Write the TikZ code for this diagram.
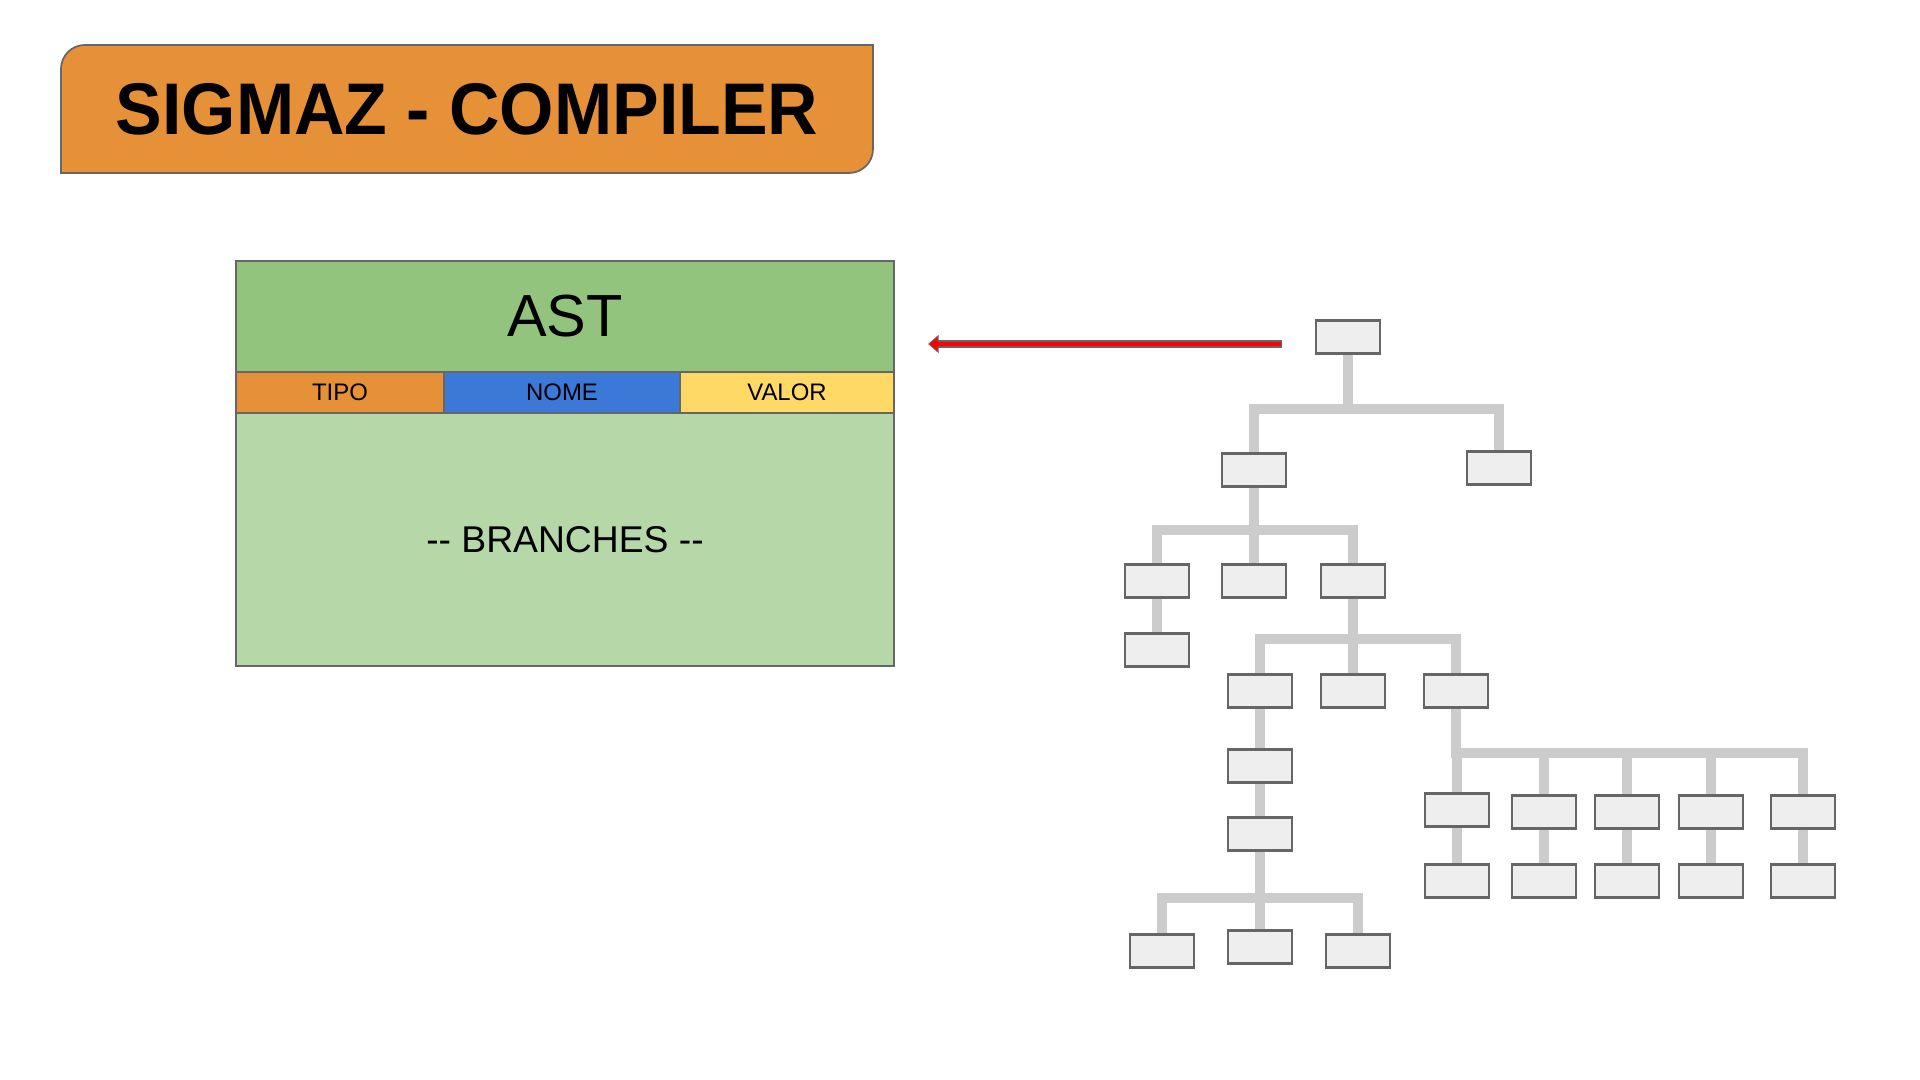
\documentclass[tikz,border=0pt]{standalone}
\usepackage{fontspec}
\setmainfont{Liberation Sans}
\usetikzlibrary{arrows.meta}
\definecolor{sigorange}{HTML}{E69138}
\definecolor{astgreen}{HTML}{93C47D}
\definecolor{bodygreen}{HTML}{B6D7A8}
\definecolor{nomeblue}{HTML}{3C78D8}
\definecolor{valoryellow}{HTML}{FFD966}
\definecolor{edgegray}{HTML}{666666}
\definecolor{leafgray}{HTML}{EEEEEE}
\definecolor{branchgray}{HTML}{CCCCCC}
\begin{document}
\begin{tikzpicture}[x=0.01cm,y=-0.01cm,
	cell/.style={draw=edgegray,line width=0.6pt,inner sep=0pt},
	leaf/.style={draw=edgegray,fill=leafgray,line width=0.6pt,minimum width=0.64cm,minimum height=0.33cm,inner sep=0pt},
	branch/.style={draw=branchgray,line width=2.7pt}]
	\useasboundingbox (0,0) rectangle (1920,1080);
	\draw [fill=sigorange,draw=edgegray,line width=0.5pt] (61,173)--(61,100) [rounded corners=6.8pt]--(61,45)--(300,45) [sharp corners]--(873,45)--(873,100) [rounded corners=6.8pt]--(873,173)--(600,173) [sharp corners]--cycle;
	\node (title) at(467,109) {\scalebox{0.955}[1]{\fontsize{20.8}{24}\selectfont\bfseries SIGMAZ - COMPILER}};
	\node [cell,fill=astgreen,minimum width=6.58cm,minimum height=1.11cm] (ast) at(565,316.5) {\fontsize{16.9}{20}\selectfont AST};
	\node [cell,fill=sigorange,minimum width=2.08cm,minimum height=0.41cm] (tipo) at(340,392.5) {\fontsize{6.8}{8}\selectfont TIPO};
	\node [cell,fill=nomeblue,minimum width=2.36cm,minimum height=0.41cm] (nome) at(562,392.5) {\fontsize{6.8}{8}\selectfont NOME};
	\node [cell,fill=valoryellow,minimum width=2.14cm,minimum height=0.41cm] (valor) at(787,392.5) {\fontsize{6.8}{8}\selectfont VALOR};
	\node [cell,fill=bodygreen,minimum width=6.58cm,minimum height=2.53cm] (body) at(565,539.5) {\fontsize{10.6}{13}\selectfont -{}- BRANCHES -{}-};
	\node [leaf] (root) at(1348,337) {};
	\node [leaf] (l1a) at(1254,470) {};
	\node [leaf] (l1b) at(1499,468) {};
	\node [leaf] (a) at(1157,581) {};
	\node [leaf] (b) at(1254,581) {};
	\node [leaf] (c) at(1353,581) {};
	\node [leaf] (a1) at(1157,650) {};
	\node [leaf] (d) at(1260,691) {};
	\node [leaf] (e) at(1353,691) {};
	\node [leaf] (f) at(1456,691) {};
	\node [leaf] (g) at(1260,766) {};
	\node [leaf] (h) at(1260,834) {};
	\node [leaf] (i) at(1162,951) {};
	\node [leaf] (j) at(1260,947) {};
	\node [leaf] (k) at(1358,951) {};
	\foreach \n/\x/\y in {1/1457/810,2/1544/812,3/1627/812,4/1711/812,5/1803/812} {
		\node [leaf] (p\n) at(\x,\y) {};
		\node [leaf] (q\n) at(\x,881) {};
		\draw [branch] (p\n.south)--(q\n.north);
	}
	\foreach \p/\c/\y in {root/l1a/409,root/l1b/409,l1a/a/530,l1a/b/530,l1a/c/530,c/d/639,c/e/639,c/f/639,h/i/898,h/j/898,h/k/898,f/p1/753,f/p2/753,f/p3/753,f/p4/753,f/p5/753}
		\draw [branch] (\p.south)--(\p.south |- 0,\y)-|(\c.north);
	\draw [branch] (a.south)--(a1.north);
	\draw [branch] (d.south)--(g.north);
	\draw [branch] (g.south)--(h.north);
	\coordinate (tail) at(1282,344);
	\coordinate (tip) at(928,344);
	\draw [edgegray,line width=2pt,-{Triangle[length=3pt,width=5pt]}] (tail)--(tip);
	\draw [red,line width=1.3pt,shorten <=0.35pt,shorten >=0.5pt,-{Triangle[length=2.2pt,width=3.8pt]}] (tail)--(tip);
\end{tikzpicture}
\end{document}
